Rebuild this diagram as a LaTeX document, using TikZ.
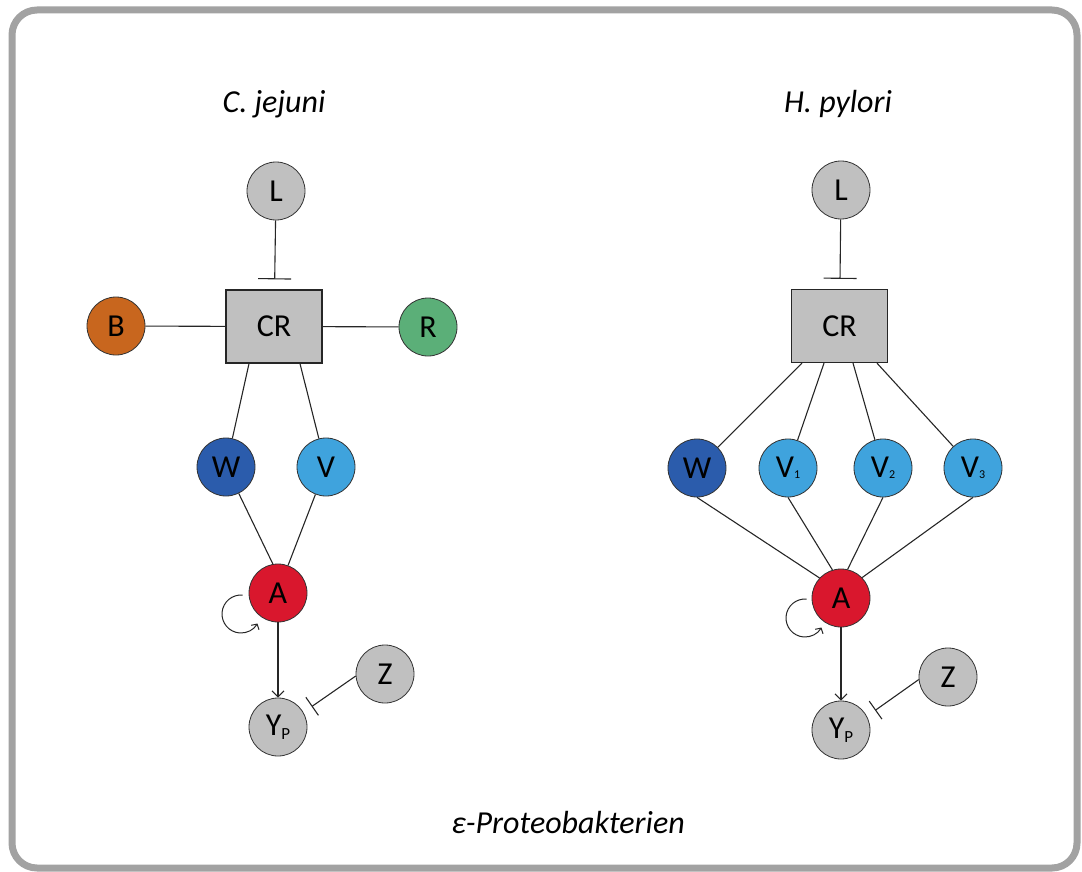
\documentclass[tikz,border=0pt]{standalone}
\usepackage{fontspec}
\setmainfont{Carlito}
\usetikzlibrary{arrows.meta,calc}
\definecolor{framegray}{HTML}{A2A2A2}
\definecolor{nodegray}{HTML}{C0C0C0}
\definecolor{borange}{HTML}{C8661E}
\definecolor{rgreen}{HTML}{5BAF78}
\definecolor{wblue}{HTML}{2B5CAC}
\definecolor{vblue}{HTML}{3FA3DD}
\definecolor{ared}{HTML}{D9172D}
\begin{document}
\begin{tikzpicture}[x=1pt,y=-1pt,
  circ/.style={circle, draw=black!80, line width=0.8pt, minimum size=58pt, inner sep=0pt, font=\fontsize{32}{36}\selectfont},
  box/.style={rectangle, draw=black!85, line width=1.3pt, fill=nodegray, minimum width=96pt, minimum height=73pt, inner sep=0pt, font=\fontsize{32}{36}\selectfont},
  title/.style={anchor=base, font=\fontsize{32}{36}\selectfont\itshape},
  edge/.style={line width=1.1pt, draw=black!85},
  inhL/.style={edge, -{Bar[width=33pt]}, shorten >=10pt},
  inhZ/.style={edge, -{Bar[width=22pt]}, shorten >=10pt},
  act/.style={edge, -{Straight Barb[length=6pt,width=12pt]}},
  selfloop/.style={line width=1pt, draw=black!85, -{Straight Barb[length=4pt,width=9pt]}}
]
\useasboundingbox (0,0) rectangle (1082,872);
\draw[line width=7pt, draw=framegray, rounded corners=25pt] (12,10) rectangle (1077,868);

% ---------- C. jejuni ----------
\node[title] (tl) at (274,113) {C. jejuni};
\node[circ, fill=nodegray] (Ll) at (276,191) {L};
\node[box] (CRl) at (274,326.5) {CR};
\node[circ, fill=borange] (Bl) at (116,326) {B};
\node[circ, fill=rgreen] (Rl) at (428,327) {R};
\node[circ, fill=wblue] (Wl) at (226,467) {W};
\node[circ, fill=vblue] (Vl) at (326,467) {V};
\node[circ, fill=ared] (Al) at (278,593) {A};
\node[circ, fill=nodegray] (Yl) at (278,727) {Y\raisebox{-4pt}{\fontsize{17}{17}\selectfont P}};
\node[circ, fill=nodegray] (Zl) at (385,674) {Z};

\draw[inhL] (Ll) -- (CRl);
\draw[edge] (Bl) -- (CRl);
\draw[edge] (CRl) -- (Rl);
\draw[edge] ([xshift=-25pt]CRl.south) -- (Wl);
\draw[edge] ([xshift=26pt]CRl.south) -- (Vl);
\draw[edge] (Wl) -- (Al.100);
\draw[edge] (Vl) -- (Al.70);
\draw[act] (Al) -- (Yl);
\draw[inhZ] (Zl.184) -- (Yl.30);
\coordinate (loopl) at ($(Al)+(-37,21)$);
\draw[selfloop] ($(loopl)+(275:19)$) arc[start angle=275, end angle=30, radius=19];

% ---------- H. pylori ----------
\node[title] (tr) at (838,113) {H. pylori};
\node[circ, fill=nodegray] (Lr) at (841,190) {L};
\node[box] (CRr) at (839.5,326) {CR};
\node[circ, fill=wblue] (Wr) at (697,468) {W};
\node[circ, fill=vblue] (V1) at (788,468) {V\raisebox{-1pt}{\fontsize{12}{12}\selectfont 1}};
\node[circ, fill=vblue] (V2) at (883,468) {V\raisebox{-1pt}{\fontsize{12}{12}\selectfont 2}};
\node[circ, fill=vblue] (V3) at (973,468) {V\raisebox{-1pt}{\fontsize{12}{12}\selectfont 3}};
\node[circ, fill=ared] (Ar) at (841,598) {A};
\node[circ, fill=nodegray] (Yr) at (841,730) {Y\raisebox{-4pt}{\fontsize{17}{17}\selectfont P}};
\node[circ, fill=nodegray] (Zr) at (948,677) {Z};

\draw[inhL] (Lr) -- (CRr);
\draw[edge] ([xshift=-37.5pt]CRr.south) -- (Wr);
\draw[edge] ([xshift=-15.5pt]CRr.south) -- (V1);
\draw[edge] ([xshift=13.5pt]CRr.south) -- (V2);
\draw[edge] ([xshift=37.5pt]CRr.south) -- (V3);
\draw[edge] (Wr.south) -- (Ar.137);
\draw[edge] (V1.south) -- (Ar.107);
\draw[edge] (V2.south) -- (Ar.77);
\draw[edge] (V3.south) -- (Ar.44);
\draw[act] (Ar) -- (Yr);
\draw[inhZ] (Zr.185) -- (Yr.28);
\coordinate (loopr) at ($(Ar)+(-36,20)$);
\draw[selfloop] ($(loopr)+(275:19)$) arc[start angle=275, end angle=30, radius=19];

% ---------- caption ----------
\node[title] (cap) at (568,833) {ε-Proteobakterien};
\end{tikzpicture}
\end{document}
